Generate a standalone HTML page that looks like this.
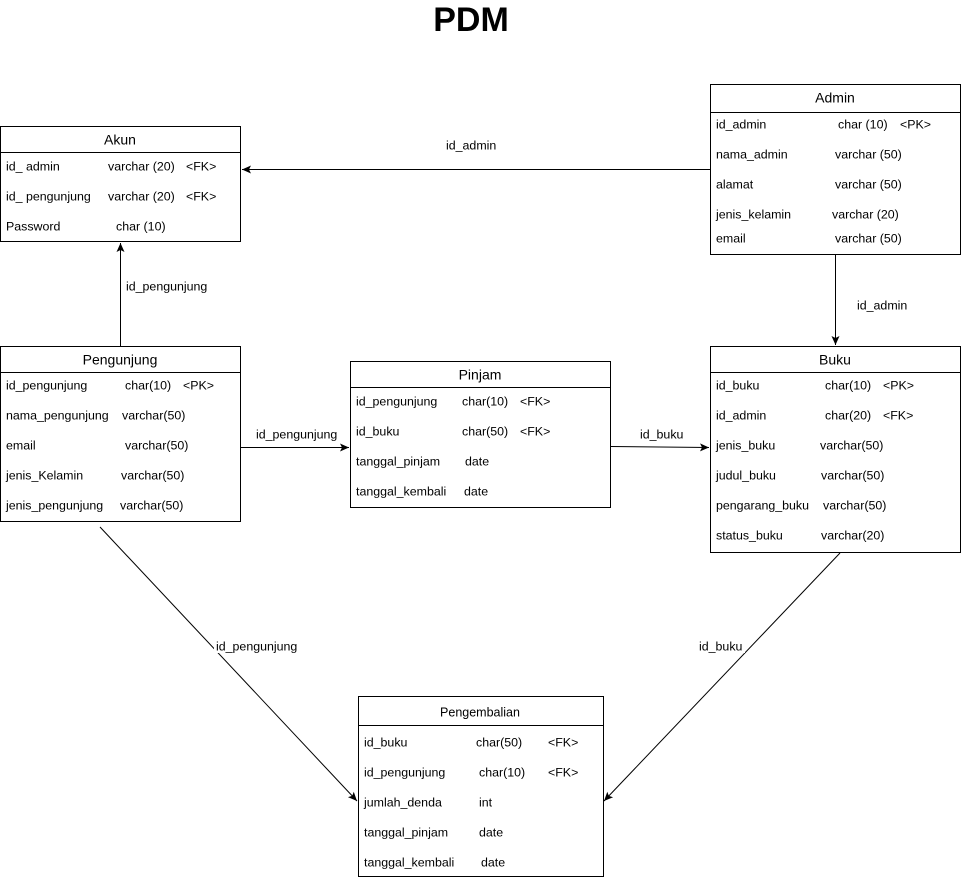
<!DOCTYPE html>
<html><head><meta charset="utf-8"><style>
html,body{margin:0;padding:0;background:#fff;}
svg{display:block;font-family:"Liberation Sans",Arial,sans-serif;}
text{font-size:12.4px;fill:#000;dominant-baseline:middle;}
.h{font-size:14px;text-anchor:middle;}
</style></head><body>
<svg width="962" height="878" viewBox="0 0 962 878" xmlns="http://www.w3.org/2000/svg">
<defs><marker id="a" markerWidth="10" markerHeight="10" refX="9" refY="5" orient="auto" markerUnits="userSpaceOnUse"><path d="M0,1 L9,5 L0,9 L2,5 z" fill="#000"/></marker></defs>
<text x="471" y="22" style="font-size:34px;font-weight:bold;text-anchor:middle">PDM</text>
<g fill="none" stroke="#000" stroke-width="1">
<rect x="0.5" y="126.5" width="240" height="115"/><line x1="0" y1="152.5" x2="241" y2="152.5"/>
<rect x="710.5" y="84.5" width="250" height="170"/><line x1="710" y1="112.5" x2="961" y2="112.5"/>
<rect x="0.5" y="346.5" width="240" height="175"/><line x1="0" y1="372.5" x2="241" y2="372.5"/>
<rect x="350.5" y="361.5" width="260" height="146"/><line x1="350" y1="387.5" x2="611" y2="387.5"/>
<rect x="710.5" y="346.5" width="250" height="206"/><line x1="710" y1="372.5" x2="961" y2="372.5"/>
<rect x="358.5" y="696.5" width="245" height="180"/><line x1="358" y1="725.5" x2="604" y2="725.5"/>
<line x1="710" y1="169.5" x2="242" y2="169.5" marker-end="url(#a)"/>
<line x1="120.5" y1="346" x2="120.5" y2="243" marker-end="url(#a)"/>
<line x1="835.5" y1="255" x2="835.5" y2="345" marker-end="url(#a)"/>
<line x1="241" y1="447.5" x2="349" y2="447.5" marker-end="url(#a)"/>
<line x1="611" y1="446.5" x2="709" y2="447.5" marker-end="url(#a)"/>
<line x1="100" y1="527" x2="357" y2="801" marker-end="url(#a)"/>
<line x1="840" y1="553" x2="604" y2="801" marker-end="url(#a)"/>
</g>
<rect x="443" y="137" width="56" height="16" fill="#fff"/>
<text x="446" y="146">id_admin</text>
<text x="126" y="287">id_pengunjung</text>
<text x="857" y="306">id_admin</text>
<rect x="254" y="425" width="84" height="16" fill="#fff"/>
<text x="256" y="435">id_pengunjung</text>
<text x="640" y="435">id_buku</text>
<rect x="214" y="637" width="84" height="16" fill="#fff"/>
<text x="216" y="647">id_pengunjung</text>
<rect x="697" y="637" width="48" height="16" fill="#fff"/>
<text x="699" y="647">id_buku</text>

<text class="h" x="120" y="141">Akun</text>
<text x="6" y="167">id_ admin</text><text x="108" y="167">varchar (20)</text><text x="186" y="167">&lt;FK&gt;</text>
<text x="6" y="197">id_ pengunjung</text><text x="108" y="197">varchar (20)</text><text x="186" y="197">&lt;FK&gt;</text>
<text x="6" y="227">Password</text><text x="116" y="227">char (10)</text>

<text class="h" x="835" y="99">Admin</text>
<text x="716" y="125">id_admin</text><text x="838" y="125">char (10)</text><text x="900" y="125">&lt;PK&gt;</text>
<text x="716" y="155">nama_admin</text><text x="835" y="155">varchar (50)</text>
<text x="716" y="185">alamat</text><text x="835" y="185">varchar (50)</text>
<text x="716" y="215">jenis_kelamin</text><text x="832" y="215">varchar (20)</text>
<text x="716" y="239">email</text><text x="835" y="239">varchar (50)</text>

<text class="h" x="120" y="361">Pengunjung</text>
<text x="6" y="386">id_pengunjung</text><text x="125" y="386">char(10)</text><text x="183" y="386">&lt;PK&gt;</text>
<text x="6" y="416">nama_pengunjung</text><text x="122" y="416">varchar(50)</text>
<text x="6" y="446">email</text><text x="125" y="446">varchar(50)</text>
<text x="6" y="476">jenis_Kelamin</text><text x="121" y="476">varchar(50)</text>
<text x="6" y="506">jenis_pengunjung</text><text x="120" y="506">varchar(50)</text>

<text class="h" x="480" y="376">Pinjam</text>
<text x="356" y="402">id_pengunjung</text><text x="462" y="402">char(10)</text><text x="520" y="402">&lt;FK&gt;</text>
<text x="356" y="432">id_buku</text><text x="462" y="432">char(50)</text><text x="520" y="432">&lt;FK&gt;</text>
<text x="356" y="462">tanggal_pinjam</text><text x="465" y="462">date</text>
<text x="356" y="492">tanggal_kembali</text><text x="464" y="492">date</text>

<text class="h" x="835" y="361">Buku</text>
<text x="716" y="386">id_buku</text><text x="825" y="386">char(10)</text><text x="883" y="386">&lt;PK&gt;</text>
<text x="716" y="416">id_admin</text><text x="825" y="416">char(20)</text><text x="883" y="416">&lt;FK&gt;</text>
<text x="716" y="446">jenis_buku</text><text x="820" y="446">varchar(50)</text>
<text x="716" y="476">judul_buku</text><text x="821" y="476">varchar(50)</text>
<text x="716" y="506">pengarang_buku</text><text x="823" y="506">varchar(50)</text>
<text x="716" y="536">status_buku</text><text x="821" y="536">varchar(20)</text>

<text class="h" x="480" y="713" style="font-size:12.5px">Pengembalian</text>
<text x="364" y="743">id_buku</text><text x="476" y="743">char(50)</text><text x="548" y="743">&lt;FK&gt;</text>
<text x="364" y="773">id_pengunjung</text><text x="479" y="773">char(10)</text><text x="548" y="773">&lt;FK&gt;</text>
<text x="364" y="803">jumlah_denda</text><text x="479" y="803">int</text>
<text x="364" y="833">tanggal_pinjam</text><text x="479" y="833">date</text>
<text x="364" y="863">tanggal_kembali</text><text x="481" y="863">date</text>
</svg>
</body></html>
